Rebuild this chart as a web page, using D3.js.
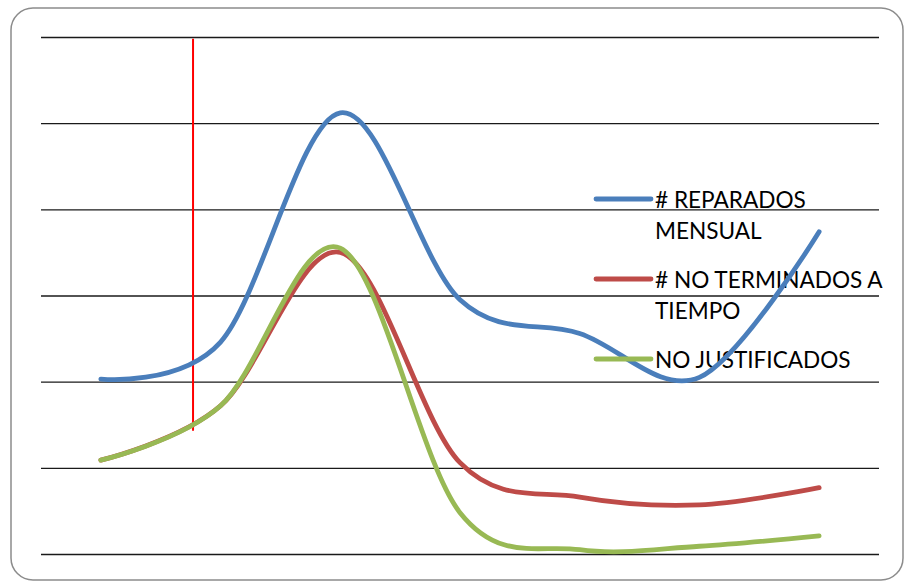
<!DOCTYPE html>
<html>
<head>
<meta charset="utf-8">
<script src="https://cdn.jsdelivr.net/npm/d3@7"></script>
<style>
  html, body { margin: 0; padding: 0; background: #fff; }
  svg { display: block; }
</style>
</head>
<body>
<svg id="chart" width="904" height="581"></svg>
<script>
// ---- data ----
const categories = ["1", "2", "3", "4", "5", "6", "7"];
const reparadosMensual = [2.03, 2.46, 5.12, 2.95, 2.56, 2.05, 3.74];
const noTerminadosATiempo = [1.09, 1.72, 3.50, 1.06, 0.66, 0.57, 0.77];
const noJustificados = [1.09, 1.72, 3.55, 0.48, 0.05, 0.09, 0.21];
const seriesNames = ["# REPARADOS MENSUAL", "# NO TERMINADOS A TIEMPO", "NO JUSTIFICADOS"];
const legendLines = [["# REPARADOS", "MENSUAL"], ["# NO TERMINADOS A", "TIEMPO"], ["NO JUSTIFICADOS"]];
const yTicks = [0, 1, 2, 3, 4, 5, 6];
// red marker line (position in category units, value range)
const markerPos = 0.77;
const markerRange = [1.43, 5.98];

const colors = ["#4A7EBB", "#BE4B48", "#98B954"];
const seriesValues = [reparadosMensual, noTerminadosATiempo, noJustificados];

const svg = d3.select("#chart");

// outer rounded border
svg.append("rect")
  .attr("x", 11).attr("y", 8).attr("width", 892).attr("height", 572)
  .attr("rx", 22).attr("ry", 22)
  .attr("fill", "#fff").attr("stroke", "#8c8c8c").attr("stroke-width", 1.5);

const plot = { left: 41, right: 879, top: 37, bottom: 554 };

const x = d3.scaleBand().domain(categories).range([plot.left, plot.right]).padding(0);
const xc = c => x(c) + x.bandwidth() / 2;
const xPos = idx => x(categories[0]) + x.bandwidth() * (idx + 0.5);
const y = d3.scaleLinear().domain([0, 6]).range([plot.bottom, plot.top]);

// gridlines via axis
const yAxis = d3.axisLeft(y).tickValues(yTicks).tickSize(-(plot.right - plot.left)).tickFormat("");
const gAxis = svg.append("g").attr("transform", `translate(${plot.left},0)`).call(yAxis);
gAxis.select(".domain").remove();
gAxis.selectAll(".tick line").attr("stroke", "#1a1a1a").attr("stroke-width", 1.4);

// red vertical marker line
svg.append("line")
  .attr("x1", xPos(markerPos)).attr("x2", xPos(markerPos))
  .attr("y1", y(markerRange[1])).attr("y2", y(markerRange[0]))
  .attr("stroke", "#ff0000").attr("stroke-width", 2);

// legend text (under lines)
const legendX = 596, legendSampleW = 55, legendTextX = 655;
const legendY = [199, 279, 359];
const legendG = svg.append("g");
legendLines.forEach((lines, i) => {
  const t = legendG.append("text")
    .attr("x", legendTextX).attr("y", legendY[i] + 8.5)
    .attr("font-family", "Lato, 'Open Sans', sans-serif")
    .attr("font-size", 22.6).attr("fill", "#000");
  lines.forEach((ln, j) => {
    t.append("tspan").attr("x", legendTextX).attr("dy", j === 0 ? 0 : 31.5).text(ln);
  });
});

// series lines
const line = d3.line()
  .x((d, i) => xc(categories[i]))
  .y(d => y(d))
  .curve(d3.curveCardinal.tension(0));

seriesValues.forEach((vals, i) => {
  svg.append("path")
    .datum(vals)
    .attr("d", line)
    .attr("fill", "none")
    .attr("stroke", colors[i])
    .attr("stroke-width", 4.8)
    .attr("stroke-linecap", "round")
    .attr("stroke-linejoin", "round");
});

// legend samples
seriesNames.forEach((name, i) => {
  svg.append("line")
    .attr("x1", legendX).attr("x2", legendX + legendSampleW)
    .attr("y1", legendY[i]).attr("y2", legendY[i])
    .attr("stroke", colors[i]).attr("stroke-width", 4.8)
    .attr("stroke-linecap", "round");
});
</script>
</body>
</html>
